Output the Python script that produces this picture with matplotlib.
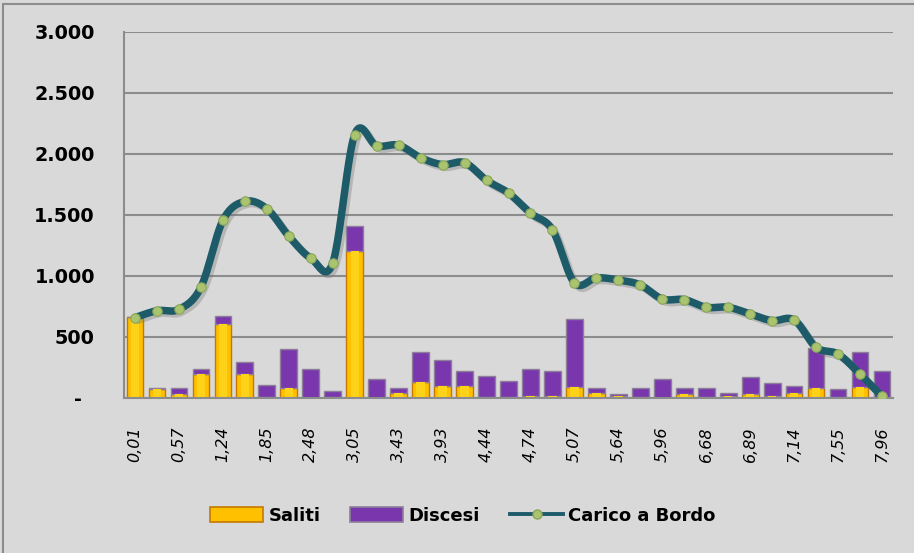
#!/usr/bin/env python3

import numpy as np
import matplotlib
matplotlib.use('Agg')
import matplotlib.pyplot as plt
from matplotlib.patches import Patch, Rectangle
from matplotlib.lines import Line2D
import matplotlib.patheffects as pe

# progressive (km) shown every other stop
tick_labels = ['0,01', '0,57', '1,24', '1,85', '2,48', '3,05', '3,43', '3,93', '4,44',
               '4,74', '5,07', '5,64', '5,96', '6,68', '6,89', '7,14', '7,55', '7,96']

saliti = [660, 70, 30, 190, 600, 195, 5, 80, 0, 5, 1205, 0, 35, 125, 95, 95, 5, 5,
          10, 10, 90, 40, 10, 5, 0, 30, 5, 15, 30, 15, 35, 80, 5, 85, 0]
discesi = [0, 10, 50, 45, 65, 95, 100, 320, 230, 50, 200, 150, 45, 250, 210, 120, 175, 130,
           225, 205, 555, 40, 20, 75, 150, 50, 75, 25, 135, 100, 60, 330, 65, 285, 215]
carico = [655, 712, 723, 904, 1452, 1608, 1548, 1323, 1143, 1104, 2156, 2063, 2069, 1967,
          1910, 1926, 1781, 1677, 1512, 1375, 940, 981, 964, 923, 808, 803, 740, 740,
          685, 630, 636, 411, 356, 192, 10]

BG = '#d9d9d9'
GRID = '#8c8c8c'
YEL = '#ffc000'
YEL_EDGE = '#c47a00'
PUR = '#7a36ad'
PUR_EDGE = '#8d7f99'
LINE = '#1e5b69'


def smooth(x, y, n=24):
    # excel-like smoothed line: bezier through the points
    pts = np.column_stack([x, y]).astype(float)
    P = np.vstack([pts[0], pts, pts[-1]])
    t = np.linspace(0, 1, n)[:, None]
    out = []
    for i in range(1, len(P) - 2):
        p0, p1, p2, p3 = P[i - 1], P[i], P[i + 1], P[i + 2]
        c1 = p1 + (p2 - p0) / 6
        c2 = p2 - (p3 - p1) / 6
        out.append((1 - t) ** 3 * p1 + 3 * (1 - t) ** 2 * t * c1 + 3 * (1 - t) * t ** 2 * c2 + t ** 3 * p2)
    out = np.vstack(out)
    return out[:, 0], out[:, 1]


plt.rcParams['font.family'] = ['DejaVu Sans']

fig = plt.figure(figsize=(9.14, 5.53), dpi=100, facecolor=BG)
ax = fig.add_axes([124 / 914, 1 - 397.5 / 553, (893 - 124) / 914, (397.5 - 31.7) / 553])
ax.set_facecolor(BG)

# outer frame
fig.patches.append(Rectangle((3 / 914, -0.05), 1.2, 1 - 4 / 553 + 0.05, transform=fig.transFigure,
                             fill=False, edgecolor='#8c8c8c', lw=1.5))

x = np.arange(len(saliti))
w = 0.76
ax.bar(x, saliti, w, color=YEL, edgecolor=YEL_EDGE, lw=1.0, zorder=3)
ax.bar(x, discesi, w, bottom=saliti, color=PUR, edgecolor=PUR_EDGE, lw=1.0, zorder=3)
# light centre on the yellow bars
ax.bar(x, saliti, w * 0.5, color='#ffd21a', lw=0, zorder=3.5)

sx, sy = smooth(x, carico)
ax.plot(sx, sy, color=LINE, lw=5.4, solid_capstyle='round', zorder=4,
        path_effects=[pe.SimpleLineShadow(offset=(2, -2), shadow_color='#777777', alpha=0.35),
                      pe.Normal()])
ax.plot(x, carico, 'o', ms=6.8, mfc='#a9c36f', mec='#8ba65a', mew=0.8, zorder=5)

ax.set_xlim(-0.5, len(saliti) - 0.5)
ax.set_ylim(0, 3000)
ax.set_yticks(np.arange(0, 3001, 500))
ax.set_yticklabels(['-  '] + ['{:,}'.format(v).replace(',', '.') for v in range(500, 3001, 500)],
                   fontsize=13.8, fontweight='bold')
ax.yaxis.grid(True, color=GRID, lw=1.5, zorder=0)
ax.tick_params(axis='y', length=0, pad=21)

ax.set_xticks(x[::2])
ax.set_xticklabels(tick_labels, rotation=90, fontsize=11.5, fontstyle='italic')
ax.tick_params(axis='x', length=0, pad=21)

for s in ['top', 'right']:
    ax.spines[s].set_visible(False)
for s in ['left', 'bottom']:
    ax.spines[s].set_color(GRID)
    ax.spines[s].set_linewidth(1.5)
    ax.spines[s].set_zorder(3.8)

handles = [Patch(facecolor=YEL, edgecolor=YEL_EDGE, lw=1.2),
           Patch(facecolor=PUR, edgecolor=PUR_EDGE, lw=1.2),
           Line2D([], [], color=LINE, lw=2.8, marker='o', ms=6.5, mfc='#a9c36f', mec='#8ba65a')]
fig.legend(handles, ['Saliti', 'Discesi', 'Carico a Bordo'], loc='center',
           bbox_to_anchor=(463 / 914, 1 - 516 / 553), ncol=3, frameon=False,
           prop={'size': 13, 'weight': 'bold'}, handlelength=2.93, handleheight=0.9,
           handletextpad=0.3, columnspacing=1.66)

plt.savefig('out.png', dpi=100, facecolor=BG)
